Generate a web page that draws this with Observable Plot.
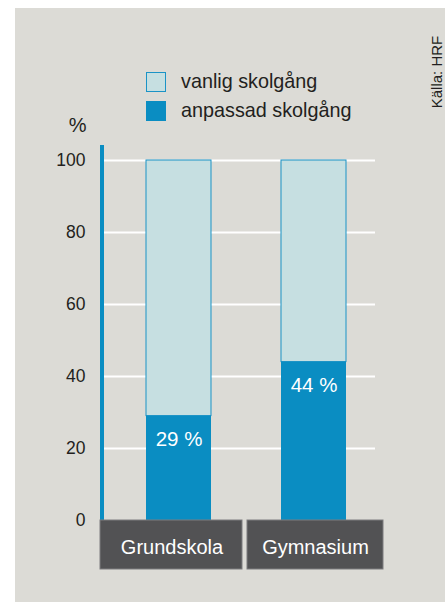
<!DOCTYPE html>
<html>
<head>
<meta charset="utf-8">
<script src="https://cdn.jsdelivr.net/npm/d3@7"></script>
<script src="https://cdn.jsdelivr.net/npm/@observablehq/plot@0.6"></script>
<style>
  html, body { margin: 0; padding: 0; background: #fff; }
  body { width: 445px; height: 602px; overflow: hidden; font-family: "Liberation Sans", Arial, sans-serif; }
  #wrap { position: absolute; left: 15px; top: 8px; width: 430px; height: 594px; background: #dcdbd6; }
  #chart { position: absolute; left: 0; top: 0; }
  #legend { position: absolute; left: 131px; top: 59px; color: #231f20; font-size: 19.8px; }
  .row { display: flex; align-items: center; height: 29px; }
  .sw { width: 20px; height: 20px; box-sizing: border-box; margin-right: 15px; }
  #source { position: absolute; left: 421px; top: 64px; transform: translate(-50%, -50%) rotate(-90deg); font-size: 15px; color: #231f20; white-space: nowrap; }
</style>
</head>
<body>
<div id="wrap">
  <div id="chart"></div>
  <div id="legend"></div>
  <div id="source">Källa: HRF</div>
</div>
<script>
// ---- data ----
const categories = ["Grundskola", "Gymnasium"];
const anpassad = [29, 44];          // % anpassad skolgång
const seriesNames = ["vanlig skolgång", "anpassad skolgång"];
const yTicks = [0, 20, 40, 60, 80, 100];
const valueLabels = ["29 %", "44 %"];
const yLabel = "%";

// ---- styles ----
const cLight = "#c6dfe1";
const cBlue = "#0a8dc2";
const cStroke = "#1b93c6";
const cBox = "#525254";
const cText = "#231f20";

const rows = categories.map((c, i) => ({cat: c, v: anpassad[i], label: valueLabels[i]}));

// legend
const legend = document.getElementById("legend");
seriesNames.forEach((name, i) => {
  const row = document.createElement("div");
  row.className = "row";
  const sw = document.createElement("div");
  sw.className = "sw";
  sw.style.background = i === 0 ? cLight : cBlue;
  sw.style.border = i === 0 ? `1.5px solid ${cStroke}` : `1px solid ${cBlue}`;
  const t = document.createElement("span");
  t.textContent = name;
  row.appendChild(sw); row.appendChild(t);
  legend.appendChild(row);
});

// per-category box insets (style)
const boxInsets = [{l: -11, r: 4, dx: -7}, {l: 1, r: -2, dx: 1.5}];

const axisLine = (index, scales, values, dimensions) => {
  const x = dimensions.marginLeft - 9;
  const line = d3.create("svg:line")
    .attr("x1", x).attr("x2", x)
    .attr("y1", scales.y(0)).attr("y2", scales.y(100) - 15)
    .attr("stroke", cBlue).attr("stroke-width", 4);
  return line.node();
};

const chart = Plot.plot({
  width: 430,
  height: 594,
  marginLeft: 96,
  marginRight: 64,
  marginTop: 152,
  marginBottom: 82,
  style: {background: "transparent", fontFamily: "'Liberation Sans', Arial, sans-serif", fontSize: "17.5px", overflow: "visible"},
  x: {domain: categories, padding: 0, axis: null},
  y: {domain: [0, 100], axis: null},
  marks: [
    Plot.ruleY(yTicks.filter(d => d > 0), {stroke: "#ffffff", strokeWidth: 2.2, insetLeft: -7, insetRight: 6}),
    Plot.text(yTicks, {y: d => d, text: d => String(d), frameAnchor: "left", dx: -26, textAnchor: "end", lineAnchor: "middle", fontSize: 17.5, fill: cText}),
    Plot.text([yLabel], {frameAnchor: "top-left", dx: -25, dy: -29, textAnchor: "end", lineAnchor: "bottom", fontSize: 20, fill: cText}),
    axisLine,
    Plot.barY(rows, {x: "cat", y1: "v", y2: 100, fill: cLight, stroke: cStroke, strokeWidth: 1, insetLeft: 35, insetRight: 35}),
    Plot.barY(rows, {x: "cat", y1: 0, y2: "v", fill: cBlue, insetLeft: 35, insetRight: 35}),
    Plot.text(rows, {x: "cat", y: "v", text: "label", dy: 23, fill: "#ffffff", fontSize: 20.5, fontWeight: 500, lineAnchor: "middle"}),
    ...rows.map((r, i) => Plot.barY([r], {x: "cat", y1: 0, y2: 0, insetBottom: -49, insetLeft: boxInsets[i].l, insetRight: boxInsets[i].r, fill: cBox, stroke: "#7c7c7e", strokeWidth: 1})),
    ...rows.map((r, i) => Plot.text([r], {x: "cat", y: 0, text: "cat", dy: 27, dx: boxInsets[i].dx, fill: "#ffffff", fontSize: 20, lineAnchor: "middle"}))
  ]
});
document.getElementById("chart").appendChild(chart);
</script>
</body>
</html>
